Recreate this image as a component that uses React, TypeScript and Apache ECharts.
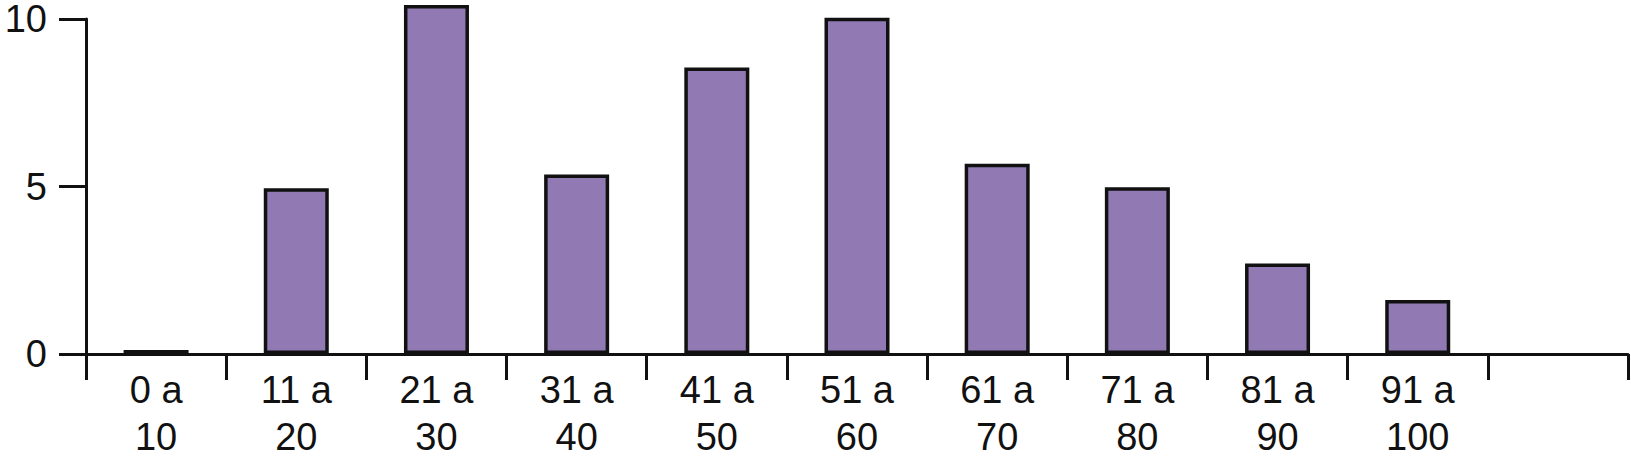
import React, { useEffect, useRef } from "react";
import * as echarts from "echarts";

const categories: string[] = [
  "0 a\n10",
  "11 a\n20",
  "21 a\n30",
  "31 a\n40",
  "41 a\n50",
  "51 a\n60",
  "61 a\n70",
  "71 a\n80",
  "81 a\n90",
  "91 a\n100",
  "",
];
const values: (number | null)[] = [0.12, 4.95, 10.42, 5.36, 8.55, 10.04, 5.68, 4.98, 2.7, 1.61, null];
const yMin = 0;
const yMax = 10;
const yInterval = 5;

export default function App() {
  const ref = useRef<HTMLDivElement>(null);
  useEffect(() => {
    if (!ref.current) return;
    const chart = echarts.init(ref.current, undefined, { renderer: "svg" });
    const font = "'Liberation Sans', Arial, Helvetica, sans-serif";
    chart.setOption({
      animation: false,
      backgroundColor: "#ffffff",
      grid: { left: 86, right: 3, top: 18, bottom: 107, containLabel: false },
      xAxis: {
        type: "category",
        data: categories,
        boundaryGap: true,
        axisLine: { show: true, lineStyle: { color: "#111", width: 3 } },
        axisTick: { show: true, length: 26, alignWithLabel: false, lineStyle: { color: "#111", width: 3 } },
        axisLabel: {
          color: "#111",
          fontFamily: font,
          fontSize: 38,
          lineHeight: 47,
          margin: 12,
          interval: 0,
        },
        splitLine: { show: false },
      },
      yAxis: {
        type: "value",
        min: yMin,
        max: yMax,
        interval: yInterval,
        axisLine: { show: true, lineStyle: { color: "#111", width: 3 } },
        axisTick: { show: true, length: 27, lineStyle: { color: "#111", width: 3 } },
        axisLabel: {
          color: "#111",
          fontFamily: font,
          fontSize: 38,
          lineHeight: 30,
          padding: [8, 0, 0, 0],
          margin: 39,
        },
        splitLine: { show: false },
      },
      series: [
        {
          type: "bar",
          data: values,
          barWidth: 65,
          clip: false,
          itemStyle: { color: "#917AB3", borderColor: "#111", borderWidth: 3.5 },
        },
      ],
    });
    return () => chart.dispose();
  }, []);
  return (
    <div
      ref={ref}
      style={{ position: "absolute", left: 0, top: 0, width: 1631, height: 461 }}
    />
  );
}
